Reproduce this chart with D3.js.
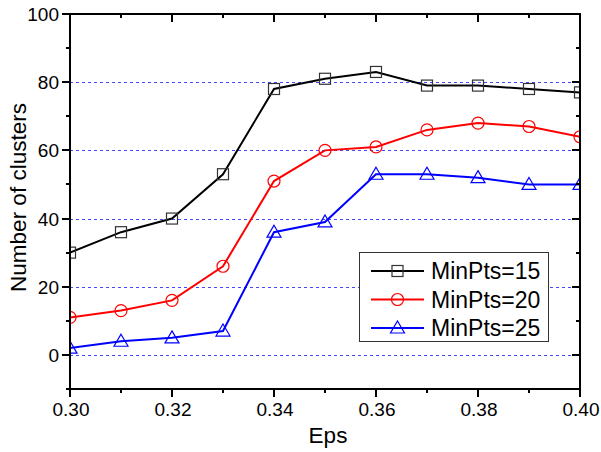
<!DOCTYPE html>
<html>
<head>
<meta charset="utf-8">
<script src="https://cdn.jsdelivr.net/npm/d3@7"></script>
<style>
  body { margin: 0; background: #fff; }
  svg { display: block; font-family: Arial, "Liberation Sans", sans-serif; }
</style>
</head>
<body>
<svg id="chart" width="601" height="452"></svg>
<script>
// Eps values on the x axis
const eps = [0.30, 0.31, 0.32, 0.33, 0.34, 0.35, 0.36, 0.37, 0.38, 0.39, 0.40];
// Number of clusters for each MinPts setting
const minPts15 = [30, 36, 40, 53, 78, 81, 83, 79, 79, 78, 77];
const minPts20 = [11, 13, 16, 26, 51, 60, 61, 66, 68, 67, 64];
const minPts25 = [2, 4, 5, 7, 36, 39, 53, 53, 52, 50, 50];
const seriesNames = ["MinPts=15", "MinPts=20", "MinPts=25"];
const xTicks = [0.30, 0.32, 0.34, 0.36, 0.38, 0.40];
const xMinor = [0.31, 0.33, 0.35, 0.37, 0.39];
const yTicks = [0, 20, 40, 60, 80, 100];
const yMinor = [-10, 10, 30, 50, 70, 90];
const gridValues = [0, 20, 40, 60, 80];

const series = [
  { name: seriesNames[0], values: minPts15, color: "#000000", mark: "#333333", shape: "square" },
  { name: seriesNames[1], values: minPts20, color: "#ff0000", mark: "#ff0000", shape: "circle" },
  { name: seriesNames[2], values: minPts25, color: "#0000ff", mark: "#0000ff", shape: "triangle" }
];

const svg = d3.select("#chart");
const pLeft = 70, pRight = 580, pTop = 14, pBottom = 389;

const x = d3.scaleLinear().domain([0.30, 0.40]).range([pLeft, pRight]);
const y = d3.scaleLinear().domain([-10, 100]).range([pBottom, pTop]);

// clip region for the plot
svg.append("defs").append("clipPath").attr("id", "plotClip")
  .append("rect").attr("x", pLeft).attr("y", pTop).attr("width", pRight - pLeft).attr("height", pBottom - pTop);

// dashed horizontal gridlines
svg.append("g").selectAll("line").data(gridValues).join("line")
  .attr("x1", pLeft).attr("x2", pRight)
  .attr("y1", d => Math.round(y(d)) + 0.5).attr("y2", d => Math.round(y(d)) + 0.5)
  .attr("stroke", "#4646ff").attr("stroke-width", 1).attr("stroke-dasharray", "3,3");

// series lines and markers
const plot = svg.append("g").attr("clip-path", "url(#plotClip)");
const line = d3.line().x((d, i) => x(eps[i])).y(d => y(d));

function drawMarker(g, shape, cx, cy, color) {
  if (shape === "square") {
    g.append("rect").attr("x", cx - 5.5).attr("y", cy - 5.5).attr("width", 11).attr("height", 11)
      .attr("fill", "none").attr("stroke", color).attr("stroke-width", 1.2);
  } else if (shape === "circle") {
    g.append("circle").attr("cx", cx).attr("cy", cy).attr("r", 6)
      .attr("fill", "none").attr("stroke", color).attr("stroke-width", 1.2);
  } else {
    g.append("path")
      .attr("d", `M${cx},${cy - 7}L${cx + 7},${cy + 5}L${cx - 7},${cy + 5}Z`)
      .attr("fill", "none").attr("stroke", color).attr("stroke-width", 1.2);
  }
}

series.forEach(s => {
  plot.append("path").datum(s.values).attr("d", line)
    .attr("fill", "none").attr("stroke", s.color).attr("stroke-width", 2);
  const mg = plot.append("g");
  s.values.forEach((v, i) => drawMarker(mg, s.shape, x(eps[i]), y(v), s.mark));
});

// frame
svg.append("rect").attr("x", pLeft).attr("y", pTop).attr("width", pRight - pLeft).attr("height", pBottom - pTop)
  .attr("fill", "none").attr("stroke", "#000").attr("stroke-width", 2);

// tick marks: bottom/left point outward, top/right point inward
const ticks = svg.append("g");
function tickLine(x1, y1, x2, y2) {
  ticks.append("line")
    .attr("x1", x1).attr("y1", y1).attr("x2", x2).attr("y2", y2)
    .attr("stroke", "#000000").attr("stroke-width", 2);
}
function xTickMarks(values, len) {
  values.forEach(v => {
    const px = Math.round(x(v));
    tickLine(px, pBottom, px, pBottom + len);
    tickLine(px, pTop, px, pTop + len);
  });
}
function yTickMarks(values, len) {
  values.forEach(v => {
    const py = Math.round(y(v));
    tickLine(pLeft, py, pLeft - len, py);
    tickLine(pRight, py, pRight - len, py);
  });
}
xTickMarks(xTicks, 8);
xTickMarks(xMinor, 4);
yTickMarks(yTicks, 8);
yTickMarks(yMinor, 4);

// tick labels
const fmt = d3.format(".2f");
svg.append("g").selectAll("text").data(xTicks).join("text")
  .attr("x", d => x(d) + 1).attr("y", 416).attr("text-anchor", "middle")
  .style("font-size", "19px").text(fmt);
svg.append("g").selectAll("text").data(yTicks).join("text")
  .attr("x", 59).attr("y", d => y(d) + 7).attr("text-anchor", "end")
  .style("font-size", "19px").text(d => d);

// axis titles
svg.append("text").attr("x", 328).attr("y", 443)
  .attr("text-anchor", "middle").style("font-size", "22.5px").text("Eps");
svg.append("text").attr("transform", "translate(26,197.5) rotate(-90)")
  .attr("text-anchor", "middle").style("font-size", "22.5px").text("Number of clusters");

// legend
const lg = svg.append("g");
lg.append("rect").attr("x", 359.5).attr("y", 252.5).attr("width", 189).attr("height", 89)
  .attr("fill", "#fff").attr("stroke", "#333").attr("stroke-width", 1);
series.forEach((s, i) => {
  const ly = 271 + i * 28.5;
  lg.append("line").attr("x1", 371).attr("x2", 424).attr("y1", ly).attr("y2", ly)
    .attr("stroke", s.color).attr("stroke-width", 2);
  drawMarker(lg, s.shape, 397.5, ly, s.mark);
  lg.append("text").attr("x", 431).attr("y", ly + 8).style("font-size", "23px").text(s.name);
});
</script>
</body>
</html>
